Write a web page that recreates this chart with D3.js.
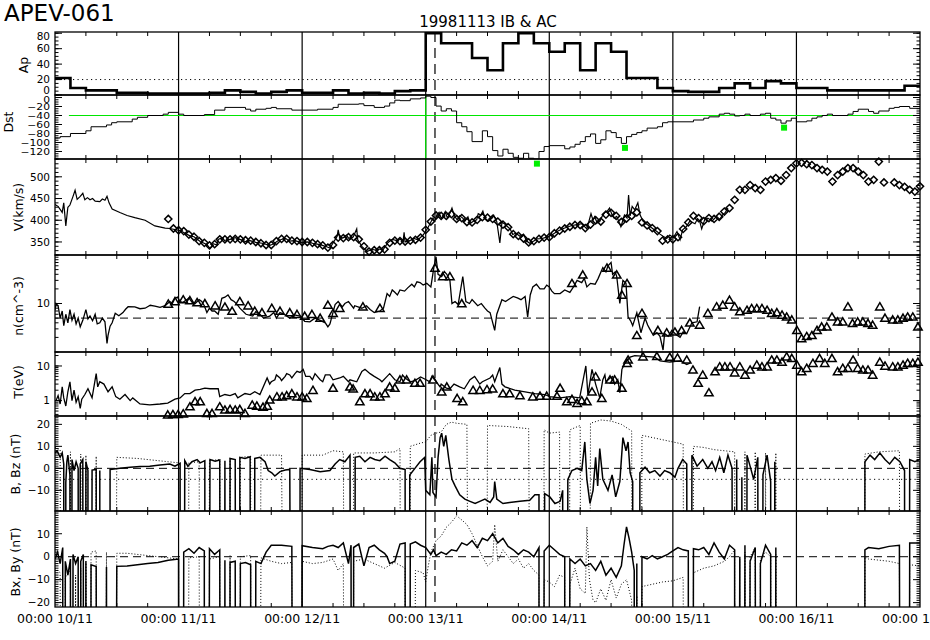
<!DOCTYPE html>
<html><head><meta charset="utf-8">
<script src="https://cdn.jsdelivr.net/npm/d3@7"></script>
<style>
body{margin:0;background:#fff}
svg{display:block}
text{font-family:"DejaVu Sans",sans-serif;fill:#000}
</style>
</head><body>
<svg id="c" width="930" height="640"></svg>
<script>
// ---------------- DATA (hours since 1998-11-10 00:00 UT) ----------------
const dayLabels = ["00:00 10/11","00:00 11/11","00:00 12/11","00:00 13/11","00:00 14/11","00:00 15/11","00:00 16/11","00:00 17/11"];
const titleText = "APEV-061";
const subtitleText = "19981113 IB & AC";

// Ap, 3-hourly
const apValues = [22,9,6,6,3,3,2,2,2,2,3,6,4,2,4,6,3,3,6,2,3,2,5,6,80,67,67,48,32,67,80,67,56,67,32,67,56,22,22,9,5,4,4,9,15,9,18,15,9,9,6,6,6,6,6,12];
const apThreshold = 20;

// Dst hourly (change points)
const dstSteps = [[0,-90],[1,-87],[3,-80],[6,-74],[7,-65],[10,-61],[11,-56],[12,-54],[15,-48],[16,-44],[18,-40],[21,-37],[22,-33],[24,-37],[25,-40],[29,-38],[31,-28],[33,-22],[37,-26],[38,-30],[39,-26],[41,-24],[42,-22],[43,-25],[46,-28],[51,-26],[54,-22],[55,-15],[59,-14],[60,-18],[62,-22],[64,-19],[65,-12],[66,-6],[67,-7],[69,-3],[71,-1],[72,3],[73,0],[74,-19],[75,-30],[76,-25],[77,-30],[78,-56],[79,-65],[80,-76],[81,-98],[83,-74],[84,-87],[85,-118],[86,-130],[87,-115],[88,-124],[89,-133],[90,-135],[91,-124],[92,-135],[93,-137],[94,-120],[95,-109],[96,-107],[99,-114],[100,-110],[101,-104],[102,-98],[103,-87],[104,-81],[105,-102],[106,-94],[107,-74],[108,-78],[109,-89],[110,-102],[111,-87],[112,-82],[113,-78],[114,-74],[115,-68],[117,-65],[118,-56],[119,-54],[124,-50],[126,-46],[127,-43],[129,-37],[130,-35],[131,-37],[132,-41],[133,-40],[134,-37],[135,-40],[137,-37],[138,-35],[139,-46],[140,-50],[141,-57],[142,-52],[143,-46],[144,-54],[146,-52],[147,-46],[148,-43],[149,-40],[150,-37],[151,-40],[154,-37],[155,-31],[156,-26],[158,-31],[159,-35],[160,-30],[162,-24],[163,-22],[164,-20],[166,-24],[168,-24]];
const dstPredicted = [[93.6,-147],[110.7,-112],[141.6,-67]];
const dstRef = -40, dstRefStart = 2.7, dstOnsetHour = 72;
const eventHour = 73.8;

// Solar wind speed (km/s)
const vLine = [[0,436],[0.6,432],[1.4,418],[1.7,440],[2.1,387],[2.5,430],[2.9,435],[3.5,455],[3.9,469],[4.3,448],[4.9,455],[5.4,462],[5.8,447],[6.3,452],[6.8,447],[7.3,450],[7.8,444],[8.7,443],[9.2,449],[9.7,446],[10.1,455],[10.5,440],[11.1,426],[12.6,418],[14,411],[15.5,406],[17.5,400],[19.4,387],[21.4,382],[22.3,381],[24.3,376],[25,372],[26.2,364],[27,362],[28.2,351],[29.5,344],[30.1,335],[30.7,346],[31.5,343],[31.7,356],[32.5,360],[33,352],[34,356],[35,360],[35.9,356],[37,351],[37.9,353],[39,349],[40.2,347],[41.7,342],[42.5,346],[43.3,353],[44.7,359],[45.5,352],[46.6,353],[48,348],[49.1,350],[50.3,346],[51.5,344],[52.5,340],[53.4,336],[54.8,363],[55,378],[55.3,360],[55.9,359],[56.6,366],[57.2,356],[57.9,361],[58.6,380],[58.8,355],[59.6,340],[60.6,328],[61.5,333],[62.5,331],[63.1,334],[63.7,332],[64.7,349],[65.5,356],[66.4,353],[67,357],[67.6,351],[67.8,372],[68,350],[68.9,353],[69.7,358],[70.5,355],[71.5,366],[72.4,382],[73.4,405],[73.8,398],[74.2,413],[74.6,418],[75,404],[75.3,409],[75.8,420],[76.2,405],[76.7,416],[77.1,428],[77.5,412],[78.1,401],[78.6,410],[79.2,405],[79.6,398],[80.2,408],[80.6,392],[81.3,398],[81.9,401],[82.2,415],[82.7,412],[83.1,421],[83.5,405],[84.2,398],[84.9,405],[85.2,412],[85.8,397],[86.4,348],[86.8,395],[87.3,392],[87.8,386],[88.4,380],[88.9,367],[89.5,370],[90.3,363],[91,368],[91.6,352],[92.2,347],[93,352],[93.6,357],[94.6,358],[95.5,361],[96.5,366],[97.5,374],[98.5,380],[99.4,384],[100.4,388],[101.4,390],[102.3,392],[103.3,380],[104.1,415],[104.5,400],[104.8,408],[105.3,394],[105.8,397],[106.3,410],[106.8,418],[107.2,420],[107.7,428],[108.2,412],[108.6,405],[109.1,409],[109.9,385],[110.3,400],[110.6,412],[111.1,405],[111.4,458],[111.7,410],[112.1,432],[112.6,424],[113.2,440],[113.6,413],[114.2,398],[114.8,392],[115.5,386],[116.2,380],[116.9,374],[117.5,368],[118.1,363],[118.8,358],[119.4,366],[120.1,360],[120.8,374],[121.4,355],[121.9,378],[122.6,385],[123.3,398],[124.3,392],[124.8,404],[125.2,398],[125.6,380],[126.2,402],[126.8,405],[127.6,398],[128.5,409],[129.1,402],[129.7,413],[130.2,418],[130.7,428]];
const vDiamondStart = 22;
const vDiamondValues = [403,381,377,375,367,362,352,348,342,345,356,356,356,357,356,354,353,350,347,343,343,352,357,357,353,352,350,350,348,345,342,337,343,360,359,361,361,356,340,328,331,331,333,348,353,352,351,353,355,360,378,397,411,410,410,414,403,405,396,395,401,407,406,403,397,390,384,368,364,358,349,352,357,360,361,370,376,381,385,389,389,382,390,400,397,413,417,410,396,404,410,418,395,388,382,375,353,356,356,361,380,395,410,405,398,405,403,408,420,428,447,470,470,481,474,470,489,493,497,491,504,520,531,532,529,527,520,516,512,489,504,512,520,520,512,504,489,493,535,487,null,487,481,477,470,466,478];

// Density (cm^-3)
const nLine = [[0,7.3],[0.2,10],[0.6,9],[1,5],[1.4,7],[1.7,3.5],[2.1,6],[2.5,4],[2.9,7.5],[3.3,4.5],[3.7,6],[4.1,3.8],[4.5,5],[4.9,3.3],[5.4,4.5],[6,7.5],[6.4,4.8],[6.8,5.5],[7.3,4.4],[7.8,6],[8.2,3.8],[8.7,4],[9.2,5],[9.7,4.2],[10.1,1.5],[10.3,2.2],[10.7,3.4],[11.1,4],[11.7,6.3],[12.4,5.6],[13.2,6.5],[13.7,7.6],[14.2,8.6],[15.5,8.5],[16.5,7.8],[17.5,8],[18.5,9.2],[19.4,8.8],[20.4,8.3],[21.4,9],[22.3,11],[22.8,10],[23.3,12.8],[23.8,13.5],[24.3,11],[24.8,10.5],[25.6,12],[26,13],[26.8,10],[27.2,10],[28,12],[28.5,11],[29,9],[29.5,6.5],[30,8],[30.5,7],[31,7],[31.7,6],[32.4,12.8],[33,13.5],[33.6,15],[34.2,12],[34.8,11],[35.4,9.5],[35.9,8],[37.1,6],[38.4,5.5],[39,6.8],[39.8,6],[40.5,5],[41.7,5.5],[42.5,6.5],[43,5],[43.7,6.5],[44.5,6],[45.6,5],[46.5,5.8],[47.6,5.5],[48.5,4.3],[49.5,4.2],[50.5,5],[51.5,4.5],[52.5,4],[53,3.3],[53.4,3.8],[54.4,9.5],[55,11],[55.8,8.5],[56.3,10],[57,11],[58,8],[58.2,9],[59.6,8],[60.5,9],[61.2,7.5],[62,6.5],[63.1,7],[63.8,8],[64.5,16],[65,14],[65.5,19],[66,17],[66.5,15],[67,19],[67.9,18],[68.5,21],[69.3,25],[69.8,22],[70.3,28],[70.9,27],[71.5,24],[72.2,26],[73,22],[73.6,57],[74,92],[74.4,40],[75.1,36],[75.6,46],[76.1,40],[76.7,30],[77.1,10],[77.7,11],[78.3,9.5],[79.2,36],[79.8,11],[80.5,10],[81,12],[82.1,9],[82.8,10],[83.5,8],[84,7],[84.5,6.5],[85.4,2.8],[85.8,6],[86.8,12],[87.5,11],[88.3,12.5],[89,14],[89.8,13],[90.5,12],[91.3,14],[91.8,5.3],[92.3,15],[92.8,22],[93.5,25],[94.2,20],[95,20],[95.5,24],[96,22],[96.5,18],[97,16],[98.1,16],[99,19],[100,17],[100.7,22],[101.4,30],[102.3,27],[102.8,33],[103.3,22],[104,26],[104.9,25],[105.5,33],[106.4,55],[107,45],[107.4,60],[108,70],[108.3,40],[108.8,45],[109.1,36],[109.7,10],[110.3,30],[110.9,26],[111.3,5.3],[111.8,4.4],[112.2,3.5],[113,6.4],[113.8,2.5],[114.6,5],[115.1,3.6],[115.5,3],[116.2,2.2],[116.9,2.5],[117.5,2.1],[118.1,1.1],[118.4,2.4],[119.1,2.1],[119.8,2.8],[120.6,2.3],[121.4,2],[122,2.6],[122.7,2.4],[123.7,4],[124.7,4.2],[125.2,8.6]];
const nTriangles = [[22,9.8],[23.3,11],[24.9,12],[26.2,11.5],[27.6,10.5],[29.1,10],[31.1,9],[33,8.5],[34.4,7],[35.9,11],[37.5,9],[38.8,7],[40.2,6.5],[42.1,8],[43.7,7],[45.6,6.5],[47,6],[48.5,5.5],[49.9,6],[51.5,5],[53,9.3],[54,6.3],[55.3,8],[59.8,8.6],[63.1,8],[73.8,54],[75.3,36],[76.7,36],[79,10],[100.4,26],[102.5,39],[107.2,54],[109.1,39],[110.1,15],[111.1,26],[113,2.2],[114,6.3],[117.1,2.8],[118.8,2.5],[120.4,2.6],[121.7,2.8],[123.3,4],[125.2,3.6],[126.8,6.3],[128.5,8.6],[129.7,9.3],[131,11.8],[132,8.6],[133,6.8],[134.4,7.3],[135.3,7.9],[136.3,7.9],[137.3,7.9],[138.3,7.3],[139.2,6.3],[140.2,6.5],[141.2,5.8],[142.1,5.3],[143.1,4.6],[144.1,2.8],[145,1.9],[146,2.1],[147,2.2],[148,2.8],[148.9,3.3],[149.9,3.3],[150.9,5.3],[152,4.2],[153,4.2],[154,8.6],[154.9,3.9],[155.9,4.2],[156.9,4.2],[157.9,3.9],[158.8,3.6],[160.2,8.6],[161.2,5],[162.7,4.6],[163.7,4.6],[164.7,5],[165.6,5.3],[166.6,5.3],[167.6,3.3]];
const nRef = 5;

// Temperature (eV)
const tLine = [[0.2,1.0],[0.6,1.4],[1,0.8],[1.4,2.5],[1.7,1.2],[2.1,0.7],[2.5,1.8],[2.9,3.5],[3.3,1.0],[3.7,2.0],[4.1,0.9],[4.5,1.3],[4.9,0.6],[5.2,1.1],[5.8,1.5],[6.4,2.2],[7.2,1.2],[8,6],[8.3,2.5],[8.7,3.5],[9.5,3],[10.3,1.8],[11.1,2.5],[11.8,1.3],[12.6,1.1],[13.6,1.5],[14.6,1.0],[15.1,1.2],[16.5,0.8],[18.4,0.75],[20.4,0.8],[21.9,0.85],[23.3,1.1],[24.3,1.2],[25.2,1.6],[26.2,1.6],[27.2,2.0],[28.2,2.1],[29.1,2.3],[30.1,2.2],[31.7,2.2],[32,1.3],[33,1.5],[34,1.4],[35,1.6],[35.5,1.2],[36.9,1.6],[37.9,1.5],[38.8,1.8],[39.8,1.5],[41.2,4.5],[41.7,3],[42,3.5],[42.7,4],[43,5.5],[43.7,4.5],[44,3.8],[44.7,5],[45,6],[45.6,5.5],[46,4.5],[46.6,6],[47,7],[47.6,6.5],[48.2,8],[48.7,5],[49.5,5],[50,4],[50.5,6],[51.5,4],[52,3.5],[52.5,5.5],[53.4,5.5],[54,4],[55.3,4.5],[56,5],[57,3.5],[57.3,4],[58.6,3.5],[59.6,7],[60.2,8],[61.2,6],[62,5],[63.1,4],[63.5,3.5],[64.5,5],[65,6],[66,4],[67,3.5],[67.5,5.5],[68,4.5],[69,3.5],[69.9,3.8],[71,4.8],[71.8,4.2],[72.8,3.5],[73.2,5],[74.8,2.5],[75,3],[76,2.3],[76.7,2.2],[77.5,3],[78.6,2.5],[79.5,2.2],[80.6,4],[81.5,5],[82.5,3],[83,3.5],[84.5,4.5],[85,5.5],[85.4,3.5],[86.4,9],[86.8,3],[87.4,2.5],[89.3,2],[91.3,1.8],[93.2,1.6],[95.1,1.5],[96.1,1.3],[98.1,1.2],[100,1.3],[101.9,1.2],[103.1,10],[103.5,1.5],[104.3,8],[105,3],[105.8,1.2],[106.4,4],[106.8,5.5],[107,3.5],[107.8,4.5],[108.3,5],[108.7,3],[109.3,4],[109.7,1.7],[110.1,8],[110.7,12],[111.7,18],[112.6,20],[114.6,19],[116.5,18],[117.5,14],[119.4,13],[121.4,14],[122.7,11],[123.3,12]];
const tTriangles = [[21.9,0.39],[22.9,0.4],[23.9,0.4],[24.9,0.42],[26.2,0.67],[27.2,0.94],[28.2,0.94],[29.5,0.43],[30.5,0.43],[32,0.67],[33,0.54],[34,0.56],[35,0.54],[35.9,0.56],[36.9,0.43],[38.3,0.75],[39.2,0.7],[40.4,0.65],[41.2,0.7],[41.7,1.05],[43.1,1.3],[44.1,1.3],[45,1.4],[46,1.6],[47,1.3],[48,1.3],[48.9,1.17],[50.1,2.0],[54,2.3],[57.3,2.5],[57.9,2.2],[59.2,0.94],[60.2,1.6],[61.2,1.6],[62.1,1.3],[63.1,1.3],[64.1,1.6],[65,2.5],[66,2.3],[67,4],[68.3,4],[69.9,3.2],[70.9,3.2],[73.4,4],[75.1,1.8],[76.1,2.5],[78.1,1.17],[79.2,0.94],[81.2,2],[82.5,2],[83.9,2.1],[85,2.2],[87,1.6],[88.3,1.6],[90.3,1.4],[92.8,1.3],[94.2,1.35],[95.5,1.35],[97.5,1.35],[98.1,2.3],[99.4,0.94],[100.4,1.1],[101.4,0.84],[102.3,1.0],[103.3,0.94],[104.3,1.8],[105,4.9],[106.2,1.17],[107.8,4],[108.7,4],[110.1,2.3],[111.1,12],[111.3,15],[114.2,18.5],[116.9,19],[119.4,18],[120.9,17],[122.7,15],[123.9,7.7],[124.9,3.2],[125.8,5.5],[127,1.7],[128.2,6.9],[129.1,9.5],[130.1,9.5],[131.1,9.5],[132,6.4],[133,9.5],[134,5.5],[135,7.7],[136.3,10.7],[137.3,9.5],[138.3,9.5],[139.2,15],[140.2,15],[141.2,13],[142.1,18.5],[143.1,16.6],[144.1,10.7],[145,6.9],[146,8.6],[147.2,12],[148.5,16.6],[149.5,12],[150.9,16.6],[152,6.9],[153,8.6],[154,8.6],[155,15],[155.9,8.6],[156.9,7.7],[157.9,7.7],[158.8,5.5],[160.2,13],[161.2,10],[162.7,9.5],[163.7,9.5],[164.7,10.7],[165.6,12],[166.6,12],[167.6,13]];

// Magnetic field (nT)
const FILL = -999;
const fillHours = [1.94,3.1,4.85,5.8,6.4,8.6,8.8,10.3,24.3,24.5,29.1,32.4,33.4,35.7,38.3,47.2,57.9,68.3,94.2,99.0,112.6,113.0,123.3,132.0,133.0,134.0,136.9,139.2,140.2,157.1,165.2];
const bOnlyFillHours = [82.5,102.9];
const bMag = [[0,9.5],[1,8.5],[3,7.5],[5,6.5],[6,6],[8,5.5],[12,5],[16,4.5],[18,4],[20,3.5],[22,3],[24,2.5],[26,2.5],[28,3],[30,3.5],[32,4],[34,4.5],[36,5],[38,5.5],[40,6],[44,6],[48,6],[52,6],[54,8],[56,7.5],[58,7],[62,7],[66,7.5],[67,9],[69,10],[71,11.5],[72,12],[73,15],[74,16],[75,16.5],[76,20],[77,21],[78,20.5],[80,20],[84,19.5],[88,19],[92,18],[95,17.5],[96,16],[98,16.5],[100,17.5],[102,19.5],[104,20.5],[106,22],[108,21.5],[110,20],[112,17],[114,15],[116,14],[118,13],[120,12],[122,11],[124,10],[126,9.5],[128,8.5],[130,8],[132,7.5],[134,7.5],[136,7.5],[138,7],[140,7],[148,null],[157.3,6.5],[160,7.5],[164,8],[168,8.5]];
const bz = [[0,7],[0.4,8],[1,5],[1.4,7],[1.7,2],[2.1,-6.5],[2.3,3],[2.5,6],[2.9,-3],[3.3,4],[3.7,-1],[4.1,3],[4.5,0],[4.9,2],[5.4,4],[6,3],[6.4,-1],[7.2,-0.8],[8,-0.5],[8.7,-1],[10.7,-0.5],[12.6,0],[14.6,0.5],[16.5,0.8],[18.4,1],[20.4,1.5],[22.3,2],[23.3,1],[24.3,2.3],[25.2,3.5],[25.8,1],[26.6,3],[27.6,4],[28.2,2.5],[29.1,3.5],[30.1,4],[31.1,3.2],[32,3.8],[33,3.5],[34,4.5],[35,4],[35.9,5],[36.9,4.5],[37.9,5.3],[38.8,4.5],[39.8,5],[40.8,3],[41.4,-1],[42.1,-2],[42.7,-3.5],[43.7,-1.5],[44.7,-0.8],[45.6,-0.5],[47.6,0],[49.5,-0.5],[51.5,-1.5],[53.4,-1],[54.4,2],[55.3,4],[56.3,3],[57.3,6],[58.3,5],[59.2,5.5],[60.2,3],[61.2,5],[62.1,4],[63.1,3.5],[64.1,5.5],[65,4],[66,2.5],[67,0],[68,-0.5],[68.9,-3],[69.9,0],[70.9,3],[71.8,5],[72,-10],[72.8,-12],[73.2,5],[73.4,-11],[74,-13],[74.4,5],[74.8,14],[75.1,16],[75.5,10],[75.9,15],[76.5,4],[77.1,-5],[77.7,-8],[78.6,-12],[79.6,-14],[80.6,-15],[81.6,-16],[82.5,-15],[83.5,-14],[84.5,-15.5],[85.2,-13],[85.4,-6],[85.8,-14],[87,-16],[88.3,-15.5],[90.3,-15],[92.2,-14.5],[93.2,-12],[94,-12],[95.1,-11.5],[96.1,-13],[97.1,-16],[98.1,-15],[98.6,-10],[99.6,-5],[100.4,-1],[101.4,0],[102.3,-1],[102.9,12],[103.3,-5],[103.9,-16],[104.5,-10],[105,5],[105.4,-8],[105.8,9],[106.4,-5],[107.4,-10],[108.2,-3],[108.9,-13],[109.7,-6],[110.3,14],[110.9,8],[111.3,12],[111.7,-2],[112.2,-6],[113.6,-2],[114.6,0.5],[115.5,-2],[116.5,-1],[117.5,-3.5],[118.4,-1],[119.4,-2],[120.4,-4],[121,0],[121.9,4],[122.7,2],[123.7,6],[124.7,1],[125.8,4],[126.8,0],[127.6,3],[128.3,-1],[129.1,5],[129.9,-2],[130.7,6],[131.5,0],[132.4,4],[133.4,-4],[134.4,6],[135,1],[135.7,-5],[136.5,5],[137.5,-3],[138.3,6],[139,-6],[139.8,3],[148,null],[157.3,3],[158.3,6],[159.2,4],[160.2,7],[161.2,4],[162.1,2],[163.1,5],[164.1,3],[165,-1],[166,4],[167,3],[168,4]];
const bx = [[0,-5],[1,-7],[2,-9],[3,-6],[4,-8],[5,-5],[6,-2],[7,2],[8,2.5],[10,2],[12,1.5],[14,1.5],[16,1],[18,0.5],[20,0],[22,-0.5],[24,-1],[26,-0.5],[28,0],[30,-1],[32,0],[34,0.5],[36,0],[38,0.5],[40,-0.5],[42,-2],[44,-3],[46,-2.5],[48,-2],[50,-3],[52,-2.5],[54,-1],[55,-6],[56,-3],[58,-2],[60,-1],[62,-3],[64,-5],[66,-2.5],[68,-5],[70,-6],[71.5,-7],[72,-11],[72.5,-4],[73,2],[74,7],[75,9],[76,12.8],[77,15],[78,17.8],[79,16],[80,14],[81,10],[82,5],[83,0],[84,-4],[85,-2],[85.4,14],[86,-2],[87,3],[88,0],[89,-3],[90,-1],[91,-5],[92,-3],[93,-6],[94,-8],[95,-10],[96,-11],[97,-13],[98,-8],[99,-9],[100,-12],[101,-5],[102,-14],[103,-16],[103.3,13],[103.8,-10],[104.5,-19],[105,-20],[106,-14],[107,-19],[108,-10],[109,-18],[110,-12],[111,-10],[112,-19],[113,-17],[114,-13],[116,-12],[118,-11],[120,-10.5],[122,-9],[124,-7],[126,-5],[128,-4],[130,-2],[131,0],[132,3],[133,-1],[134,2],[135,0],[136,4],[137,-1],[138,2],[139,0],[140,1],[148,null],[157.3,0],[158,-1],[160,-1.5],[162,-2],[164,-3],[166,-3.5],[168,-4]];
const by = [[0,-1],[0.5,2],[1,-3],[1.5,4],[2,-2],[2.5,-8],[3,-1],[3.5,1],[4,-3],[4.5,0],[5,-2],[5.5,1],[6,-2],[7,-3.5],[8,-4.3],[10,-4.5],[12,-4.2],[14,-4],[16,-3.5],[18,-3],[20,-2.5],[22,-1.5],[24,-1],[25,2],[26,3.5],[27,1.5],[28,4],[29,2.5],[30,3.5],[31,1],[32,3],[33,-1.5],[34,-2.5],[35,-2],[36,-3],[37,-2.5],[38,-3.5],[39,-2],[40,-3],[41,2],[42,5],[44,5],[46,4.5],[48,4.8],[50,4],[52,3.5],[53,4.5],[54,5],[55,4],[56,6],[57,-3],[57.5,5],[58,4],[59,5.5],[60,-4],[61,4],[62,5],[63,3],[64,1.5],[64.5,0],[65,-3],[66,-2],[67,5.5],[68,6],[69,5.5],[70,6.5],[71,5],[72,4],[73,1],[73.5,3],[74,0.5],[75,2],[76,1],[77,3],[78,2.5],[79,6],[80,5],[81,7],[82,4],[83,8],[84,7],[85,10],[86,6],[87,8],[88,4.5],[89,3],[90,1],[91,3],[92,2],[93,0],[94,4],[95,2.5],[96,5],[97,3],[98,1],[99,0],[100,-1],[101,-3],[102,-1],[103,-4],[104,-3],[105,-6],[106,-2],[107,-8],[108,-5],[109,-9],[110,-4],[110.5,5],[111,13],[111.5,8],[112,2],[112.5,-6],[113,-3],[114,0],[115,-1],[116,0.5],[117,-1],[118,0],[119,1],[120,2.5],[121,4],[122,3],[123,2.5],[124,3.5],[125,3],[126,4],[127,1],[128,6],[129,2],[130,-1],[131,5],[132,3],[133,0],[134,5],[135,-2],[136,4],[137,-3],[138,5],[139,1],[140,4],[148,null],[157.3,3],[158,4],[160,3.5],[162,4.5],[164,5],[166,6],[168,6]];
const bzRefDotted = -5;

// ---------------- DRAWING ----------------
const svg = d3.select("#c");
const defs = svg.append("defs");
const L = 55, R = 920;
const x = d3.scaleLinear().domain([0,168]).range([L,R]);

const yAp  = d3.scaleLinear().domain([0,81.6]).range([95,32]);
const yDst = d3.scaleLinear().domain([-136.7,5.6]).range([159,95]);
const yV   = d3.scaleLinear().domain([320,541]).range([255,159]);
const yN   = d3.scaleLog().domain([1,100]).range([352,255]);
const yT   = d3.scaleLog().domain([0.36,25.3]).range([416,352]);
const yB   = d3.scaleLinear().domain([-19.4,23.8]).range([511,416]);
const yXY  = d3.scaleLinear().domain([-21.9,19.9]).range([607,511]);

const rng = (a,b,s)=>d3.range(a,b+1e-9,s);
const logMinor = (lo,hi)=>{const o=[];for(let e=-2;e<=3;e++)for(let m=1;m<10;m++){const v=m*Math.pow(10,e);if(v>=lo&&v<=hi)o.push(v);}return o;};

const panels = [
 {id:"ap", y:yAp, label:"Ap", lx:23, ly:65, major:[0,20,40,60,80], minor:rng(0,80,5), fs:10, sx:1.05},
 {id:"dst",y:yDst,label:"Dst",lx:8, ly:122, major:[0,-20,-40,-60,-80,-100,-120], minor:rng(-135,5,5), fs:8.6, sx:1.25},
 {id:"v",  y:yV,  label:"V(km/s)", lx:18, ly:207, major:[350,400,450,500], minor:rng(320,540,10), fs:10.5, sx:1},
 {id:"n",  y:yN,  label:"n(cm^-3)", lx:18, ly:306, major:[10], minor:logMinor(1,100), fs:10.5, sx:1},
 {id:"t",  y:yT,  label:"T(eV)", lx:18, ly:382, major:[1,10], minor:logMinor(0.36,25.3), fs:10.5, sx:1},
 {id:"b",  y:yB,  label:"B, Bz (nT)", lx:15, ly:464, major:[-10,0,10,20], minor:rng(-19,23,1), fs:10.5, sx:1},
 {id:"xy", y:yXY, label:"Bx, By (nT)", lx:15, ly:562, major:[-20,-10,0,10], minor:rng(-21,19,1), fs:10.5, sx:1}
];
const fmt = d3.format("d");
panels.forEach(p=>{
  const [bot,top] = p.y.range();
  p.top = top; p.bottom = bot;
  defs.append("clipPath").attr("id","clip-"+p.id).append("rect")
    .attr("x",L).attr("y",top).attr("width",R-L).attr("height",bot-top);
});
const P = Object.fromEntries(panels.map(p=>[p.id,p]));
const gOf = id => svg.append("g").attr("clip-path",`url(#clip-${id})`);
const hline = (yy,dash)=>svg.append("line").attr("x1",L).attr("x2",R).attr("y1",yy).attr("y2",yy)
  .attr("stroke","#000").attr("stroke-width",1).attr("stroke-dasharray",dash);

// reference lines
hline(yAp(apThreshold),"1.2 3.3");
hline(yN(nRef),"8 5");
hline(yB(0),"8 5");
hline(yB(bzRefDotted),"1.2 3.3");
hline(yXY(0),"8 5");

// day grid lines
d3.range(1,7).forEach(d=>{
  svg.append("line").attr("x1",x(d*24)).attr("x2",x(d*24)).attr("y1",P.ap.top).attr("y2",P.xy.bottom)
    .attr("stroke","#000").attr("stroke-width",1.2);
});
// event dashed line
svg.append("line").attr("x1",x(eventHour)).attr("x2",x(eventHour)).attr("y1",P.ap.top).attr("y2",P.xy.bottom)
  .attr("stroke","#000").attr("stroke-width",1.2).attr("stroke-dasharray","10 6");

// Dst green references
svg.append("line").attr("x1",x(dstRefStart)).attr("x2",R).attr("y1",yDst(dstRef)).attr("y2",yDst(dstRef))
  .attr("stroke","#00e600").attr("stroke-width",1.2);
svg.append("line").attr("x1",x(dstOnsetHour)).attr("x2",x(dstOnsetHour)).attr("y1",P.dst.top).attr("y2",P.dst.bottom)
  .attr("stroke","#00e600").attr("stroke-width",1.2);

// ---- series ----
const lineGen = (yS)=>d3.line().defined(d=>d[1]!==null).x(d=>x(d[0])).y(d=>yS(d[1]));
const merge = (s,f)=>s.concat(f.map(h=>[h,FILL])).sort((a,b)=>a[0]-b[0]);

// Ap step line
const apPts = apValues.map((v,i)=>[i*3,v]).concat([[168,apValues[apValues.length-1]]]);
gOf("ap").append("path").attr("d",lineGen(yAp).curve(d3.curveStepAfter)(apPts))
  .attr("fill","none").attr("stroke","#000").attr("stroke-width",2.6);

// Dst step line
gOf("dst").append("path").attr("d",lineGen(yDst).curve(d3.curveStepAfter)(dstSteps))
  .attr("fill","none").attr("stroke","#000").attr("stroke-width",1);
svg.selectAll("rect.pred").data(dstPredicted).join("rect").attr("class","pred")
  .attr("x",d=>x(d[0])-3).attr("y",d=>yDst(d[1])-3).attr("width",6).attr("height",6).attr("fill","#00ee00");

// V
gOf("v").append("path").attr("d",lineGen(yV)(vLine)).attr("fill","none").attr("stroke","#000").attr("stroke-width",1.2);
const vDia = vDiamondValues.map((v,i)=>[vDiamondStart+i,v]).filter(d=>d[1]!==null);
const diamondPath = "M0,-3.6L3.6,0L0,3.6L-3.6,0Z";
svg.append("g").selectAll("path").data(vDia).join("path").attr("d",diamondPath)
  .attr("transform",d=>`translate(${x(d[0])},${yV(d[1])})`)
  .attr("fill","none").attr("stroke","#000").attr("stroke-width",1.5);

// n
const triPath = "M0,-4L4.2,3.2L-4.2,3.2Z";
gOf("n").append("path").attr("d",lineGen(yN)(nLine)).attr("fill","none").attr("stroke","#000").attr("stroke-width",1.3);
svg.append("g").selectAll("path").data(nTriangles).join("path").attr("d",triPath)
  .attr("transform",d=>`translate(${x(d[0])},${yN(d[1])})`)
  .attr("fill","none").attr("stroke","#000").attr("stroke-width",1.5);

// T
gOf("t").append("path").attr("d",lineGen(yT)(tLine)).attr("fill","none").attr("stroke","#000").attr("stroke-width",1.3);
svg.append("g").selectAll("path").data(tTriangles).join("path").attr("d",triPath)
  .attr("transform",d=>`translate(${x(d[0])},${yT(d[1])})`)
  .attr("fill","none").attr("stroke","#000").attr("stroke-width",1.5);

// B, Bz
const gb = gOf("b");
gb.append("path").attr("d",lineGen(yB)(merge(bMag,fillHours.concat(bOnlyFillHours))))
  .attr("fill","none").attr("stroke","#000").attr("stroke-width",1).attr("stroke-dasharray","1 2");
gb.append("path").attr("d",lineGen(yB)(merge(bz,fillHours)))
  .attr("fill","none").attr("stroke","#000").attr("stroke-width",1.5);

// Bx, By
const gxy = gOf("xy");
gxy.append("path").attr("d",lineGen(yXY)(merge(bx,fillHours)))
  .attr("fill","none").attr("stroke","#000").attr("stroke-width",1).attr("stroke-dasharray","1 2");
gxy.append("path").attr("d",lineGen(yXY)(merge(by,fillHours)))
  .attr("fill","none").attr("stroke","#000").attr("stroke-width",1.5);

// ---- frames, ticks, labels ----
panels.forEach(p=>{
  const g = svg.append("g");
  g.append("rect").attr("x",L).attr("y",p.top).attr("width",R-L).attr("height",p.bottom-p.top)
    .attr("fill","none").attr("stroke","#000").attr("stroke-width",1.3);
  const inR = v => { const yy=p.y(v); return yy>=p.top-0.01 && yy<=p.bottom+0.01; };
  p.minor.filter(inR).forEach(v=>{
    const yy=p.y(v);
    g.append("line").attr("x1",L).attr("x2",L+3.5).attr("y1",yy).attr("y2",yy).attr("stroke","#000");
    g.append("line").attr("x1",R-3.5).attr("x2",R).attr("y1",yy).attr("y2",yy).attr("stroke","#000");
  });
  p.major.filter(inR).forEach(v=>{
    const yy=p.y(v);
    g.append("line").attr("x1",L).attr("x2",L+7).attr("y1",yy).attr("y2",yy).attr("stroke","#000");
    g.append("line").attr("x1",R-7).attr("x2",R).attr("y1",yy).attr("y2",yy).attr("stroke","#000");
    const ly = Math.max(Math.min(yy,p.bottom-5),p.top+4.5);
    g.append("text").attr("transform",`translate(50,${ly}) scale(${p.sx},1)`)
      .attr("dy","0.36em").attr("text-anchor","end").attr("font-size",p.fs).text(fmt(v));
  });
  d3.range(6,168,6).filter(h=>h%24!==0).forEach(h=>{
    g.append("line").attr("x1",x(h)).attr("x2",x(h)).attr("y1",p.top).attr("y2",p.top+4).attr("stroke","#000");
    g.append("line").attr("x1",x(h)).attr("x2",x(h)).attr("y1",p.bottom-4).attr("y2",p.bottom).attr("stroke","#000");
  });
  g.append("text").attr("transform",`translate(${p.lx},${p.ly}) rotate(-90)`)
    .attr("text-anchor","middle").attr("dominant-baseline","central").attr("font-size",12.5).text(p.label);
});

// x labels
svg.selectAll("text.xl").data(dayLabels).join("text").attr("class","xl")
  .attr("x",(d,i)=>x(i*24)).attr("y",623).attr("text-anchor","middle").attr("font-size",12.5).text(d=>d);

// titles
svg.append("text").attr("x",4).attr("y",21).attr("font-size",23).text(titleText);
svg.append("text").attr("x",488).attr("y",27).attr("text-anchor","middle").attr("font-size",15).text(subtitleText);
</script>
</body></html>
